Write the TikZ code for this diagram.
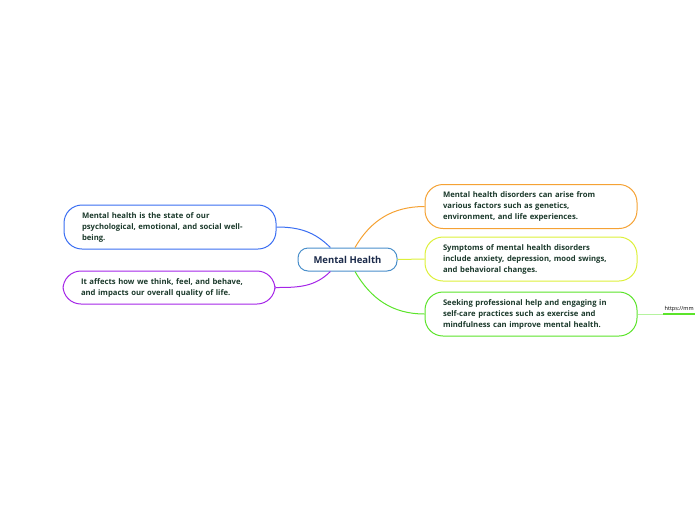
\documentclass[tikz,border=0pt]{standalone}
\usepackage{fontspec}
\setmainfont{Open Sans}
\usetikzlibrary{positioning}

\definecolor{txtgreen}{HTML}{1C3A2C}
\definecolor{txtnavy}{HTML}{1B2A4A}
\definecolor{cblue}{HTML}{3A6EF2}
\definecolor{cpurple}{HTML}{A526E8}
\definecolor{corange}{HTML}{F5A234}
\definecolor{cyellow}{HTML}{DDF03A}
\definecolor{cgreen}{HTML}{5BE42A}
\definecolor{ccentre}{HTML}{4A8FCB}

\begin{document}
\begin{tikzpicture}[
  x=1pt, y=-1pt,
  font=\fontsize{7.7pt}{11pt}\selectfont\bfseries,
  topic/.style={draw=#1, line width=1pt, rounded corners=18pt, fill=white, text=txtgreen, align=left,
    minimum width=212pt, minimum height=44pt, text width=176pt, inner xsep=18pt},
  centre/.style={draw=ccentre, line width=1pt, rounded corners=10pt, fill=white, text=txtnavy,
    minimum width=99pt, minimum height=23pt, font=\fontsize{9.5pt}{11pt}\selectfont\bfseries},
  link/.style={line width=1pt}
]
\useasboundingbox (0,0) rectangle (696,520);

% --- central topic ---
\node[centre] (mh) at (347.5,259.5) {Mental Health};

% --- left side ---
\node[topic=cblue] (def) at (170,227)
  {Mental health is the state of our\\psychological, emotional, and social well-\\being.};
\node[topic=cpurple, minimum height=33pt] (life) at (169,287.5)
  {It affects how we think, feel, and behave,\\and impacts our overall quality of life.};

% --- right side ---
\node[topic=corange] (cause) at (531,206.5)
  {Mental health disorders can arise from\\various factors such as genetics,\\environment, and life experiences.};
\node[topic=cyellow] (symp) at (531,259)
  {Symptoms of mental health disorders\\include anxiety, depression, mood swings,\\and behavioral changes.};
\node[topic=cgreen] (help) at (531,314)
  {Seeking professional help and engaging in\\self-care practices such as exercise and\\mindfulness can improve mental health.};

% --- web link ---
\node[font=\fontsize{5.5pt}{6pt}\selectfont, text=black, anchor=south west, inner sep=1.5pt] (url) at (663,314) {https://mm};

% --- connectors ---
\draw[link, cblue]   (mh.145) to[out=135, in=0]   (def.east);
\draw[link, cpurple] (mh.215) to[out=-135, in=0]  (life.east);
\draw[link, corange] (mh.58)  to[out=60, in=180]  (cause.west);
\draw[link, cyellow] (mh.east) -- (symp.west);
\draw[link, cgreen]  (mh.302) to[out=-60, in=180] (help.west);
\draw[cgreen!45, line width=0.8pt] (help.east) -- (url.south west);
\draw[cgreen, line width=1.2pt] (url.south west) -- (url.south east);
\end{tikzpicture}
\end{document}
